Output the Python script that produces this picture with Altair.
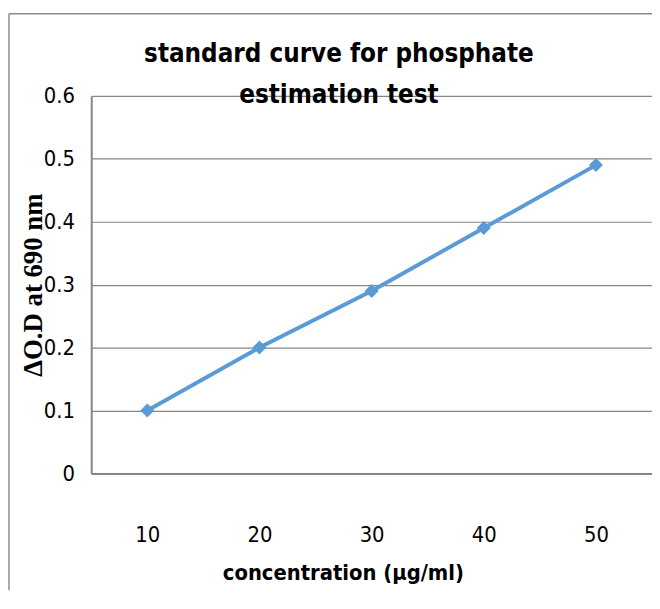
import altair as alt
import pandas as pd

# ---- data ----
concentration = ["10", "20", "30", "40", "50"]
od_values = [0.10, 0.20, 0.29, 0.39, 0.49]
y_ticks = [0, 0.1, 0.2, 0.3, 0.4, 0.5, 0.6]
title_lines = ["standard  curve for phosphate", "estimation test"]
x_title = "concentration  (µg/ml)"
y_title = "ΔO.D at 690 nm"

df = pd.DataFrame({"concentration": concentration, "od": od_values})

W, H = 566, 381
PAD_L, PAD_T, PAD_B = 84, 86, 118
SANS = "DejaVu Sans Condensed, Liberation Sans, sans-serif"
SERIF = "Liberation Serif, Times New Roman, serif"
GRID = "#868686"
BLUE = "#5B9BD5"

x_enc = alt.X(
    "concentration:O",
    sort=concentration,
    scale=alt.Scale(type="point", padding=0.5),
    axis=alt.Axis(
        title=x_title,
        labelAngle=0,
        labelFont=SANS,
        labelFontSize=22,
        labelColor="black",
        labelPadding=52,
        ticks=False,
        tickSize=0,
        grid=False,
        domainColor=GRID,
        domainWidth=2,
        titleFont=SANS,
        titleFontSize=22,
        titleFontWeight="bold",
        titleColor="black",
        titleX=254,
        titleY=100,
        titleAlign="center",
        titleBaseline="middle",
    ),
)

y_enc = alt.Y(
    "od:Q",
    scale=alt.Scale(domain=[0, 0.6], nice=False, zero=True),
    axis=alt.Axis(
        title=y_title,
        values=y_ticks,
        format="~g",
        labelFont=SANS,
        labelFontSize=22,
        labelColor="black",
        labelPadding=17,
        ticks=False,
        tickSize=0,
        grid=True,
        gridColor=GRID,
        gridWidth=1.2,
        domainColor=GRID,
        domainWidth=2,
        titleFont=SERIF,
        titleFontSize=27,
        titleFontWeight="bold",
        titleColor="black",
        titleAngle=270,
        titleX=-50,
        titleY=H / 2,
        titleAlign="center",
        titleBaseline="alphabetic",
    ),
)

base = alt.Chart(df).encode(x=x_enc, y=y_enc)
line = base.mark_line(color=BLUE, strokeWidth=4)
points = base.mark_point(shape="diamond", filled=True, size=200, color=BLUE, opacity=1)

one = alt.Data(values=[{}])
title_layer = alt.Chart(one).mark_text(
    text=title_lines,
    font=SANS,
    fontSize=26,
    fontWeight="bold",
    color="black",
    align="center",
    baseline="alphabetic",
    lineHeight=41,
).encode(x=alt.value(250), y=alt.value(-34))

border_v = alt.Chart(one).mark_rule(color="#8c8c8c", strokeWidth=1.5).encode(
    x=alt.value(-83), y=alt.value(-83), y2=alt.value(H + PAD_B)
)
border_h = alt.Chart(one).mark_rule(color="#8c8c8c", strokeWidth=1.5).encode(
    x=alt.value(-83), x2=alt.value(W + 10), y=alt.value(-83)
)

chart = (
    alt.layer(line, points, title_layer, border_v, border_h)
    .properties(
        width=W,
        height=H,
        autosize=alt.AutoSizeParams(type="none"),
        padding={"left": PAD_L, "top": PAD_T, "right": 0, "bottom": PAD_B},
        background="white",
    )
    .configure_view(strokeOpacity=0)
)

chart.save("out.html", embed_options={"renderer": "svg", "actions": False})
